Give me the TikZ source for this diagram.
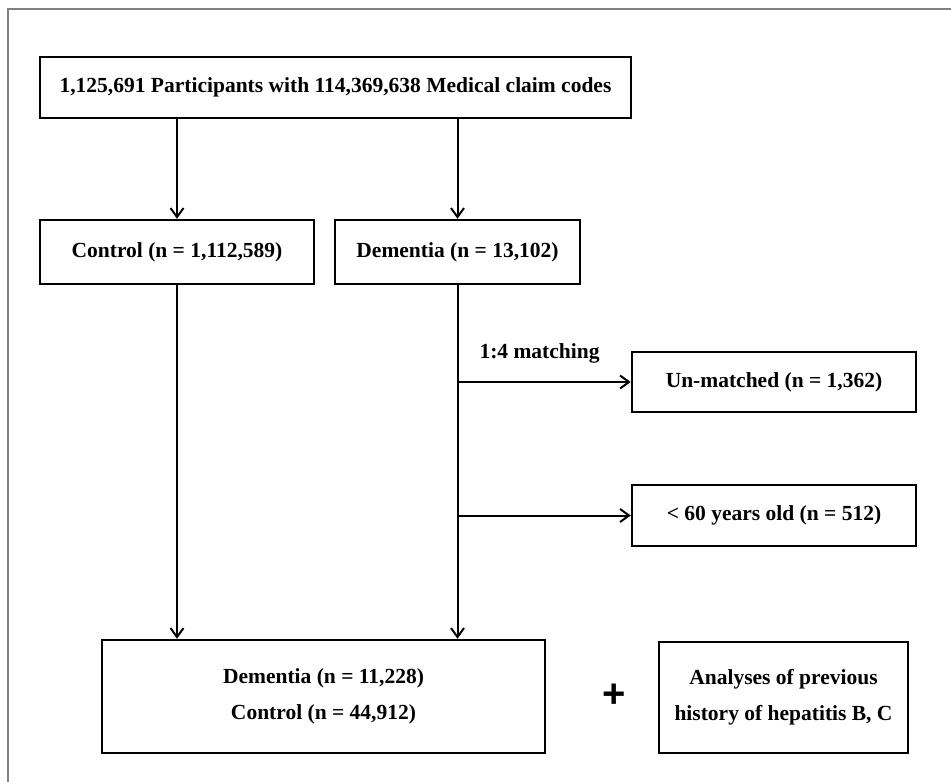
\documentclass[tikz,border=0pt]{standalone}
\usepackage{fontspec}
\setmainfont{Liberation Serif}
\setsansfont{Liberation Sans}
\usetikzlibrary{arrows.meta}
\begin{document}
\begin{tikzpicture}[
    x=1pt, y=-1pt,
    font=\fontsize{21.5}{27}\selectfont\bfseries,
    box/.style={draw=black, line width=2.5pt, rectangle, inner sep=0pt, align=center},
    link/.style={line width=2pt, -{Straight Barb[length=9pt,width=13pt,line width=2pt]}},
    frame/.style={draw=black!50, line width=2pt}
  ]
  \useasboundingbox (0,0) rectangle (951,782);
  \draw[frame] (8,9) rectangle (960,800);

  % Source population
  \node[box, minimum width=591pt, minimum height=61pt] (all) at (335.5,87.5)
    {1,125,691 Participants with 114,369,638 Medical claim codes};

  % Control and dementia groups
  \node[box, minimum width=274pt, minimum height=64pt] (ctrl) at (177,252) {Control (n = 1,112,589)};
  \node[box, minimum width=245pt, minimum height=64pt] (dem) at (457.5,252) {Dementia (n = 13,102)};

  % Excluded cases
  \node[box, minimum width=284pt, minimum height=60pt] (unm) at (774,382) {Un-matched (n = 1,362)};
  \node[box, minimum width=284pt, minimum height=61pt] (young) at (774,515.5) {< 60 years old (n = 512)};
  \node[anchor=west] (match) at (476,353) {1:4 matching};

  % Final cohort and additional analyses
  \node[box, minimum width=443pt, minimum height=113pt] (final) at (323.5,696.5)
    {Dementia (n = 11,228)\\[9pt] Control (n = 44,912)};
  \node[font=\fontsize{40}{40}\selectfont\sffamily\bfseries] (plus) at (614,696) {+};
  \node[box, minimum width=249pt, minimum height=111pt] (hep) at (783.5,697.5)
    {Analyses of previous\\[9pt] history of hepatitis B, C};

  % Connect the source with both groups
  \draw[link] (all.south -| ctrl) -- (ctrl.north);
  \draw[link] (all.south -| dem) -- (dem.north);

  % Connect both groups with the final cohort
  \draw[link] (ctrl.south) -- (ctrl.south |- final.north);
  \draw[link] (dem.south) -- (dem.south |- final.north);

  % Exclusions branch off the dementia line
  \foreach \out in {unm,young}
    \draw[link] (dem.south |- \out.west) -- (\out.west);
\end{tikzpicture}
\end{document}
